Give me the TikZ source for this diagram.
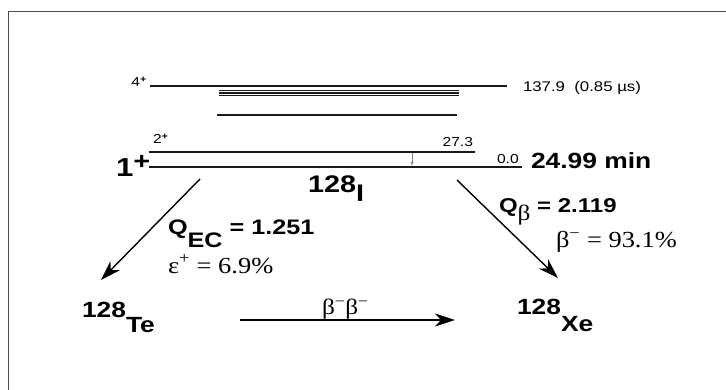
\documentclass[tikz,border=0pt]{standalone}
\usepackage{fontspec}
\usetikzlibrary{arrows.meta}
\newfontfamily\hv[FakeStretch=1.2]{Liberation Sans}
\newfontfamily\tm[FakeStretch=1.15]{Liberation Serif}
\tikzset{
  lvl/.style={line width=2pt, draw=black!90},
  band/.style={line width=1.3pt, draw=black!90},
  decay/.style={line width=1.4pt, -{Stealth[length=20pt,width=13pt,inset=6pt]}},
  lbl/.style={inner sep=0pt, outer sep=0pt},
  small/.style={lbl, font=\hv\fontsize{13}{15}\selectfont},
  big/.style={lbl, font=\hv\bfseries\fontsize{21}{24}\selectfont},
  ser/.style={lbl, font=\tm\fontsize{23}{26}\selectfont},
}
\begin{document}
\begin{tikzpicture}[x=1pt,y=-1pt]
\useasboundingbox (0,0) rectangle (726,390);
\draw[line width=0.8pt, black!70] (8,390) -- (8,11) -- (726,11);
% levels
\draw[lvl] (150,86) -- (507,86);
\draw[band] (219,90.5) -- (459,90.5);
\draw[band] (219,93) -- (459,93);
\draw[band] (219,95.5) -- (459,95.5);
\draw[lvl] (217,115) -- (457,115);
\draw[lvl] (149,151.7) -- (475,151.7);
\draw[lvl] (149,166.7) -- (522,166.7);
\draw[gray, line width=0.6pt, -{Stealth[length=4pt,width=3pt]}] (412,153) -- (412,165.5);
% small labels
\node[small, anchor=base east] (l4) at (147,87) {4\textsuperscript{\bfseries +}};
\node[small, anchor=base west, font=\hv\fontsize{14}{16}\selectfont] (e4) at (523,92) {137.9\ \ (0.85 µs)};
\node[small, anchor=base west] (l2) at (153,144) {2\textsuperscript{\bfseries +}};
\node[small, anchor=base east] (e2) at (473,147) {27.3};
\node[small, anchor=base west] (e0) at (497,164) {0.0};
% big labels
\node[big, anchor=base west, font=\hv\bfseries\fontsize{22}{24}\selectfont] (hl) at (531,169) {24.99 min};
\node[big, anchor=base west, font=\hv\bfseries\fontsize{26}{28}\selectfont] (l1) at (116,177) {1\raisebox{7pt}{\fontsize{24}{26}\selectfont +}};
\node[big, anchor=base west, font=\hv\bfseries\fontsize{24}{28}\selectfont] (iod) at (308,193) {128\raisebox{-9pt}{I}};
\node[big, anchor=base west] (qec) at (168,235) {Q\raisebox{-13pt}{EC} = 1.251};
\node[ser, anchor=base west] (eps) at (168,273) {ε\textsuperscript{+} = 6.9\%};
\node[big, anchor=base west, font=\hv\bfseries\fontsize{20}{24}\selectfont] (qb) at (499,213) {Q\raisebox{-8pt}{\tm\mdseries\fontsize{22}{24}\selectfont β} = 2.119};
\node[ser, anchor=base west] (bm) at (556,248) {β\textsuperscript{−} = 93.1\%};
\node[big, anchor=base west, font=\hv\bfseries\fontsize{22}{24}\selectfont] (te) at (82,317) {128\raisebox{-15pt}{Te}};
\node[big, anchor=base west, font=\hv\bfseries\fontsize{22}{24}\selectfont] (xe) at (517,315) {128\raisebox{-17pt}{Xe}};
\node[ser, anchor=base west, font=\tm\fontsize{22}{24}\selectfont] (bb) at (322,314) {β\textsuperscript{−}β\textsuperscript{−}};
% connectors
\coordinate (ecs) at (200,179);
\coordinate (ece) at (101,280);
\coordinate (bts) at (457,180);
\coordinate (bte) at (558,278);
\coordinate (bbs) at (240,320);
\coordinate (bbe) at (455,320);
\draw[decay] (ecs) -- (ece);
\draw[decay] (bts) -- (bte);
\draw[decay] (bbs) -- (bbe);
\end{tikzpicture}
\end{document}
